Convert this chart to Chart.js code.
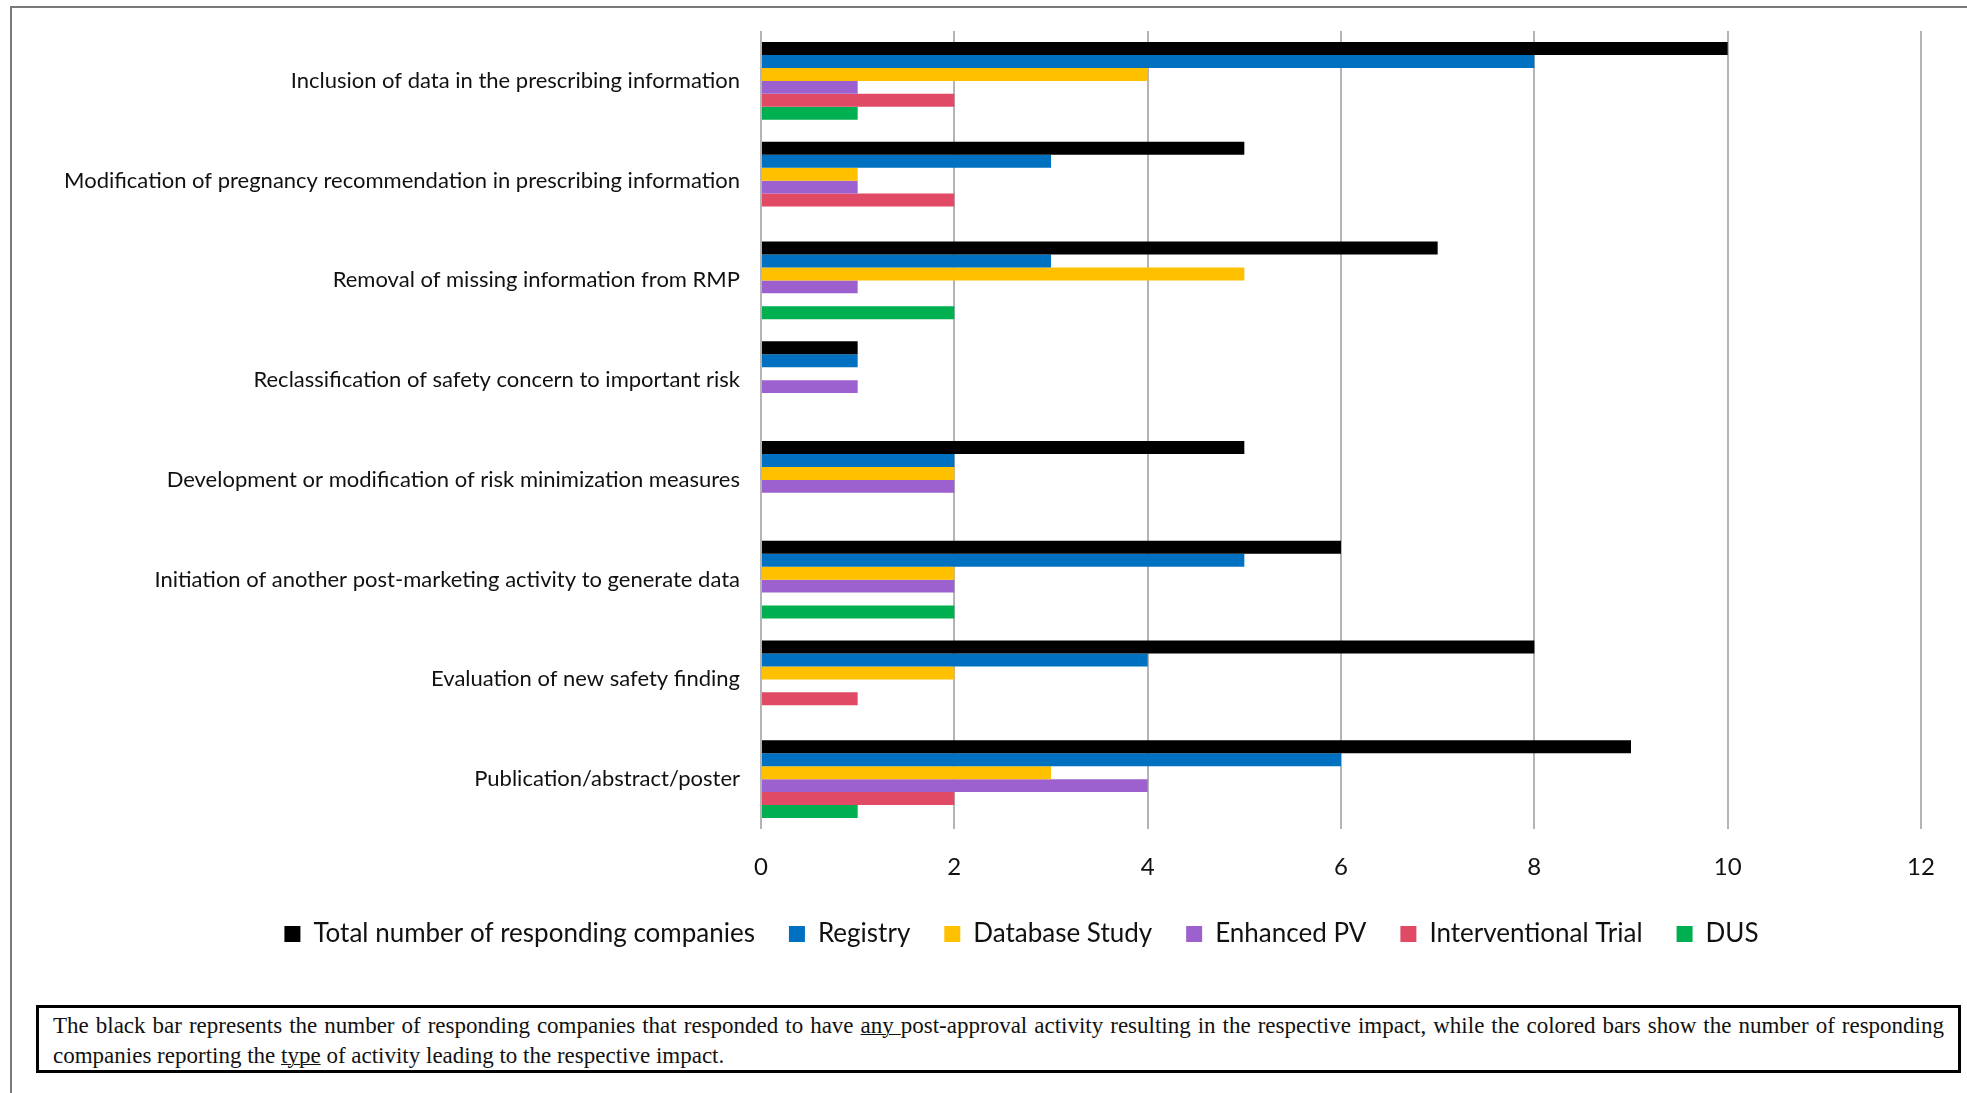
<!DOCTYPE html>
<html>
<head>
<meta charset="utf-8">
<script src="https://cdn.jsdelivr.net/npm/chart.js@4.4.1/dist/chart.umd.min.js"></script>
<style>
  html, body { margin: 0; padding: 0; background: #fff; overflow: hidden; }
  #page { position: relative; width: 1967px; height: 1093px; }
  #frame {
    position: absolute; left: 10px; top: 6px; width: 2000px; height: 1200px;
    border-top: 2px solid #7a7a7a; border-left: 2px solid #7a7a7a;
  }
  #chart { position: absolute; left: 0; top: 0; }
  #note {
    position: absolute; left: 36px; top: 1005px; width: 1925px; height: 68px;
    box-sizing: border-box; border: 3px solid #000;
    padding: 3px 14px 0 14px;
    font-family: 'Liberation Serif', 'Times New Roman', serif; font-size: 23px;
    line-height: 30px; text-align: justify; color: #111;
  }
  #note u { text-decoration-thickness: 1px; }
</style>
</head>
<body>
<div id="page">
  <div id="frame"></div>
  <canvas id="chart" width="1967" height="1000"></canvas>
  <div id="note">The black bar represents the number of responding companies that responded to have <u>any </u>post-approval activity resulting in the respective impact, while the colored bars show the number of responding companies reporting the <u>type</u> of activity leading to the respective impact.</div>
</div>
<script>
  // impact categories, top to bottom
  const impacts = [
    'Inclusion of data in the prescribing information',
    'Modification of pregnancy recommendation in prescribing information',
    'Removal of missing information from RMP',
    'Reclassification of safety concern to important risk',
    'Development or modification of risk minimization measures',
    'Initiation of another post-marketing activity to generate data',
    'Evaluation of new safety finding',
    'Publication/abstract/poster'
  ];

  // number of responding companies per impact
  const totalCompanies   = [10, 5, 7, 1, 5, 6, 8, 9];
  const registry         = [8, 3, 3, 1, 2, 5, 4, 6];
  const databaseStudy    = [4, 1, 5, 0, 2, 2, 2, 3];
  const enhancedPV       = [1, 1, 1, 1, 2, 2, 0, 4];
  const interventional   = [2, 2, 0, 0, 0, 0, 1, 2];
  const dus              = [1, 0, 2, 0, 0, 2, 0, 1];

  const xTicks = [0, 2, 4, 6, 8, 10, 12];

  const labelFont = "Lato, 'Open Sans', sans-serif";

  const series = [
    { label: 'Total number of responding companies', data: totalCompanies, color: '#000000' },
    { label: 'Registry', data: registry, color: '#0070C0' },
    { label: 'Database Study', data: databaseStudy, color: '#FFC000' },
    { label: 'Enhanced PV', data: enhancedPV, color: '#9D60CF' },
    { label: 'Interventional Trial', data: interventional, color: '#E14A65' },
    { label: 'DUS', data: dus, color: '#00B050' }
  ];

  // legend row is centred a bit right of the canvas middle
  const legendOffset = {
    id: 'legendOffset',
    afterLayout(chart) { chart.legend.left = 122; }
  };

  new Chart(document.getElementById('chart'), {
    type: 'bar',
    data: {
      labels: impacts,
      datasets: series.map(s => ({
        label: s.label,
        data: s.data,
        backgroundColor: s.color,
        borderWidth: 0,
        barPercentage: 1.0,
        categoryPercentage: 0.78
      }))
    },
    plugins: [legendOffset],
    options: {
      indexAxis: 'y',
      responsive: false,
      animation: false,
      layout: { padding: { top: 31, right: 46, left: 0, bottom: 43 } },
      plugins: {
        tooltip: { enabled: false },
        legend: {
          position: 'bottom',
          labels: {
            boxWidth: 16,
            boxHeight: 16,
            padding: 34,
            color: '#111',
            font: { family: labelFont, size: 26 }
          }
        }
      },
      scales: {
        x: {
          min: 0,
          max: 12,
          afterBuildTicks: (scale) => { scale.ticks = xTicks.map(v => ({ value: v })); },
          afterFit: (scale) => { scale.height = 58; },
          grid: { color: '#b4b4b4', lineWidth: 2, drawTicks: false },
          border: { display: false },
          ticks: {
            padding: 24,
            color: '#111',
            font: { family: labelFont, size: 24 }
          }
        },
        y: {
          afterFit: (scale) => { scale.width = 761; },
          grid: { display: false },
          border: { display: false },
          ticks: {
            padding: 13,
            color: '#111',
            font: { family: labelFont, size: 22 }
          }
        }
      }
    }
  });
</script>
</body>
</html>
